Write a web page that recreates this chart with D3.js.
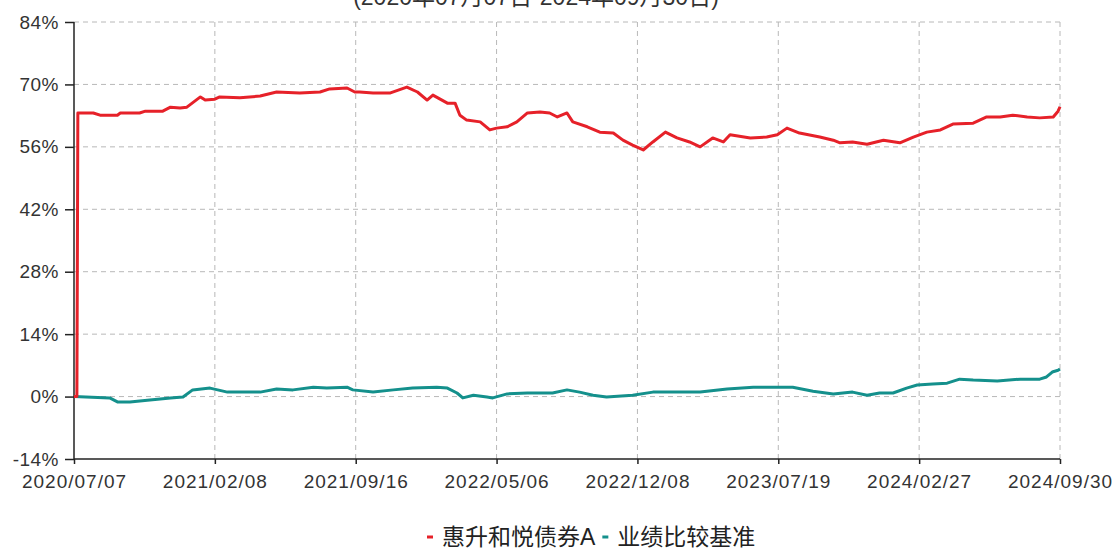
<!DOCTYPE html>
<html>
<head>
<meta charset="utf-8">
<script src="https://cdn.jsdelivr.net/npm/d3@7"></script>
<style>
  body { margin: 0; background: #fff; }
  svg { display: block; font-family: Arial, "Liberation Sans", "Noto Sans CJK SC", sans-serif; }
</style>
</head>
<body>
<div id="chart"></div>
<script>
// x positions are trading-day indices, 0 .. 1022
const xTickLabels = ['2020/07/07', '2021/02/08', '2021/09/16', '2022/05/06', '2022/12/08', '2023/07/19', '2024/02/27', '2024/09/30'];
const yTicks = [-14, 0, 14, 28, 42, 56, 70, 84];
const seriesNames = ['惠升和悦债券A', '业绩比较基准'];

const fundDays = [0, 3, 4, 20, 27, 45, 48, 68, 74, 92, 100, 110, 117, 131, 136, 146, 151, 172, 193, 210, 234, 255, 265, 283, 291, 296, 310, 328, 345, 356, 366, 372, 387, 395, 400, 407, 421, 431, 438, 449, 459, 470, 483, 493, 501, 511, 517, 532, 545, 559, 569, 579, 590, 600, 613, 625, 638, 649, 662, 673, 680, 701, 718, 729, 739, 752, 773, 787, 794, 807, 822, 839, 856, 870, 884, 898, 911, 932, 946, 960, 973, 988, 1001, 1015, 1020, 1022];
const fundValues = [0, 0, 63.6, 63.6, 63.1, 63.1, 63.6, 63.6, 64.0, 64.0, 64.9, 64.7, 64.9, 67.2, 66.5, 66.7, 67.2, 67.0, 67.4, 68.3, 68.1, 68.3, 69.0, 69.2, 68.3, 68.3, 68.1, 68.1, 69.4, 68.3, 66.5, 67.6, 65.8, 65.8, 63.1, 62.0, 61.6, 59.8, 60.2, 60.5, 61.6, 63.6, 63.8, 63.6, 62.7, 63.6, 61.6, 60.5, 59.3, 59.1, 57.5, 56.4, 55.3, 57.1, 59.3, 58.0, 57.1, 56.0, 58.0, 57.1, 58.7, 58.0, 58.2, 58.7, 60.2, 59.1, 58.2, 57.5, 56.9, 57.1, 56.6, 57.5, 56.9, 58.2, 59.3, 59.8, 61.1, 61.3, 62.7, 62.7, 63.1, 62.7, 62.5, 62.7, 64.0, 65.0];

const benchDays = [0, 37, 45, 58, 76, 100, 113, 123, 141, 159, 172, 193, 210, 227, 248, 262, 283, 289, 310, 331, 351, 376, 387, 397, 403, 414, 428, 434, 449, 470, 496, 511, 524, 538, 552, 579, 600, 628, 649, 677, 704, 725, 745, 766, 787, 807, 822, 835, 849, 863, 874, 890, 905, 918, 932, 957, 981, 1001, 1008, 1014, 1020, 1022];
const benchValues = [0, -0.3, -1.2, -1.2, -0.8, -0.3, -0.1, 1.5, 1.9, 1.0, 1.0, 1.0, 1.7, 1.5, 2.1, 1.9, 2.1, 1.5, 1.0, 1.5, 1.9, 2.1, 1.9, 0.8, -0.3, 0.3, -0.1, -0.3, 0.6, 0.8, 0.8, 1.5, 1.0, 0.3, -0.1, 0.3, 1.0, 1.0, 1.0, 1.7, 2.1, 2.1, 2.1, 1.2, 0.6, 1.0, 0.3, 0.8, 0.8, 1.9, 2.6, 2.8, 3.0, 3.9, 3.7, 3.5, 3.9, 3.9, 4.4, 5.5, 5.9, 6.2];

const colors = ['#e62129', '#14908c'];

const width = 1117, height = 550;
const margin = { left: 74, right: 57, top: 22, bottom: 91 };
const lastDay = 1022;

const svg = d3.select('#chart').append('svg')
    .attr('width', width)
    .attr('height', height);

// title, mostly cut off at the top edge
svg.append('text')
    .attr('x', 536)
    .attr('y', 5)
    .attr('text-anchor', 'middle')
    .style('font-size', '23px')
    .style('fill', '#333')
    .text('(2020年07月07日-2024年09月30日)');

const x = d3.scaleLinear()
    .domain([0, lastDay])
    .range([margin.left, width - margin.right]);

const y = d3.scaleLinear()
    .domain([-14, 84])
    .range([height - margin.bottom, margin.top]);

const xTickPos = xTickLabels.map((d, i) => i * lastDay / (xTickLabels.length - 1));

// grid
svg.append('g')
    .selectAll('line')
    .data(yTicks.slice(1))
    .enter()
    .append('line')
    .attr('x1', x(0)).attr('x2', x(lastDay))
    .attr('y1', d => y(d)).attr('y2', d => y(d))
    .style('stroke', '#b8b8b8')
    .style('stroke-dasharray', '5,4');

svg.append('g')
    .selectAll('line')
    .data(xTickPos.slice(1))
    .enter()
    .append('line')
    .attr('x1', d => x(d)).attr('x2', d => x(d))
    .attr('y1', y(-14)).attr('y2', y(84))
    .style('stroke', '#b8b8b8')
    .style('stroke-dasharray', '5,4');

// axes
let yAxis = g => g
    .attr('transform', 'translate(' + margin.left + ',0)')
    .call(d3.axisLeft(y).tickValues(yTicks).tickFormat(d => d + '%').tickSize(9).tickPadding(6))

let xAxis = g => g
    .attr('transform', 'translate(0,' + y(-14) + ')')
    .call(d3.axisBottom(x).tickValues(xTickPos).tickFormat((d, i) => xTickLabels[i]).tickSize(5).tickPadding(11))

svg.append('g')
    .call(yAxis)
    .call(g => g.select('.domain').attr('d', 'M0,' + y(84) + 'V' + y(-14)))
    .call(g => g.selectAll('text').style('font-size', '19px').style('letter-spacing', '0.5px').style('fill', '#333'))
    .call(g => g.selectAll('line, .domain').style('stroke', '#222').style('stroke-width', 1.5));

svg.append('g')
    .call(xAxis)
    .call(g => g.select('.domain').attr('d', 'M' + x(0) + ',0H' + x(lastDay)))
    .call(g => g.selectAll('text').style('font-size', '19px').style('letter-spacing', '1px').style('fill', '#333'))
    .call(g => g.selectAll('line, .domain').style('stroke', '#222').style('stroke-width', 1.5));

// lines
const line = d3.line()
    .x(d => x(d[0]))
    .y(d => y(d[1]));

const series = [
    d3.zip(fundDays, fundValues),
    d3.zip(benchDays, benchValues)
];

// benchmark drawn first so the fund line sits on top
[1, 0].forEach(i => {
    svg.append('path')
        .datum(series[i])
        .attr('d', line)
        .attr('fill', 'none')
        .style('stroke', colors[i])
        .style('stroke-width', 3)
        .style('stroke-linejoin', 'round');
});

// legend
const legend = svg.append('g')
    .attr('transform', 'translate(427,537)');

let lx = 0;
seriesNames.forEach((name, i) => {
    legend.append('line')
        .attr('x1', lx).attr('x2', lx + 6)
        .attr('y1', 0).attr('y2', 0)
        .style('stroke', colors[i])
        .style('stroke-width', 3);
    const t = legend.append('text')
        .attr('x', lx + 15)
        .attr('y', 8)
        .style('font-size', '23px')
        .style('fill', '#222')
        .text(name);
    lx += 15 + t.node().getComputedTextLength() + 7;
});
</script>
</body>
</html>
